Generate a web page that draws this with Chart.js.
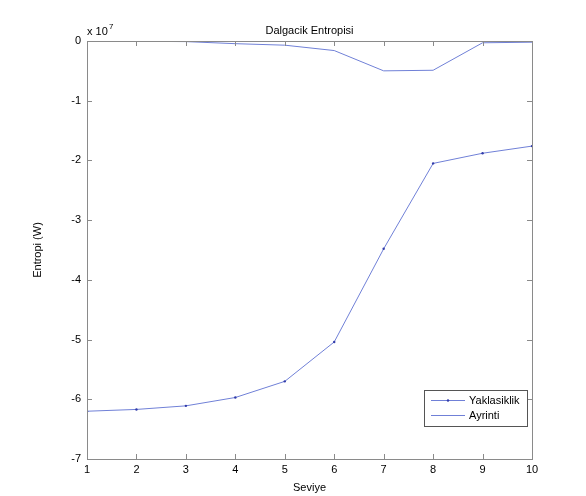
<!DOCTYPE html>
<html>
<head>
<meta charset="utf-8">
<script src="https://cdn.jsdelivr.net/npm/chart.js@4.4.1/dist/chart.umd.min.js"></script>
<style>
  html, body { margin: 0; padding: 0; background: #fff; }
  #wrap { width: 586px; height: 496px; }
</style>
</head>
<body>
<div id="wrap"><canvas id="c" width="586" height="496"></canvas></div>
<script>
// data (values in W, axis shown as x 10^7)
const levels = [1, 2, 3, 4, 5, 6, 7, 8, 9, 10];
const yaklasiklik = [-6.20e7, -6.17e7, -6.11e7, -5.97e7, -5.70e7, -5.04e7, -3.48e7, -2.05e7, -1.88e7, -1.76e7];
const ayrinti = [0, -0.005e7, -0.01e7, -0.045e7, -0.07e7, -0.16e7, -0.50e7, -0.49e7, -0.03e7, -0.02e7];
const seriesNames = ['Yaklasiklik', 'Ayrinti'];
const yTickLabels = ['-7', '-6', '-5', '-4', '-3', '-2', '-1', '0'];

const FONT = '"Liberation Sans", Arial, sans-serif';
const lineCol = 'rgb(112,128,215)';
const axisCol = '#8a8a8a';

// box, inward ticks, titles, legend
const matlabLook = {
  id: 'matlabLook',
  afterDraw(chart) {
    const { ctx, chartArea: a, scales: { x, y } } = chart;
    ctx.save();
    ctx.strokeStyle = axisCol;
    ctx.lineWidth = 1;
    ctx.strokeRect(Math.round(a.left) + 0.5, Math.round(a.top) + 0.5, Math.round(a.right - a.left), Math.round(a.bottom - a.top));
    ctx.beginPath();
    x.ticks.forEach(t => {
      const px = Math.round(x.getPixelForValue(t.value)) + 0.5;
      ctx.moveTo(px, a.bottom); ctx.lineTo(px, a.bottom - 5);
      ctx.moveTo(px, a.top); ctx.lineTo(px, a.top + 5);
    });
    y.ticks.forEach(t => {
      const py = Math.round(y.getPixelForValue(t.value)) + 0.5;
      ctx.moveTo(a.left, py); ctx.lineTo(a.left + 5, py);
      ctx.moveTo(a.right, py); ctx.lineTo(a.right - 5, py);
    });
    ctx.stroke();

    ctx.fillStyle = '#000';
    ctx.font = '11px ' + FONT;
    ctx.textAlign = 'center';
    ctx.textBaseline = 'alphabetic';
    ctx.fillText('Dalgacik Entropisi', (a.left + a.right) / 2, 34);
    ctx.fillText('Seviye', (a.left + a.right) / 2, 491);
    ctx.textAlign = 'left';
    ctx.fillText('x 10', 87, 35);
    ctx.font = '8px ' + FONT;
    ctx.fillText('7', 109, 29);
    ctx.font = '11px ' + FONT;
    ctx.save();
    ctx.translate(41, (a.top + a.bottom) / 2);
    ctx.rotate(-Math.PI / 2);
    ctx.textAlign = 'center';
    ctx.fillText('Entropi (W)', 0, 0);
    ctx.restore();

    // legend
    const lx = 424, ly = 390, lw = 103, lh = 36;
    ctx.fillStyle = '#fff';
    ctx.fillRect(lx, ly, lw, lh);
    ctx.strokeStyle = '#555';
    ctx.strokeRect(lx + 0.5, ly + 0.5, lw, lh);
    chart.data.datasets.forEach((ds, i) => {
      const yy = ly + 10 + i * 15 + 0.5;
      ctx.strokeStyle = ds.borderColor;
      ctx.beginPath(); ctx.moveTo(431, yy); ctx.lineTo(465, yy); ctx.stroke();
      if (ds.pointRadius > 0) {
        ctx.fillStyle = ds.pointBackgroundColor;
        ctx.beginPath(); ctx.arc(448, yy, 1.2, 0, Math.PI * 2); ctx.fill();
      }
      ctx.fillStyle = '#000';
      ctx.textAlign = 'left';
      ctx.textBaseline = 'middle';
      ctx.fillText(ds.label, 469, yy);
    });
    ctx.restore();
  }
};

new Chart(document.getElementById('c'), {
  type: 'line',
  data: {
    datasets: [
      {
        label: seriesNames[0],
        data: levels.map((l, i) => ({ x: l, y: yaklasiklik[i] })),
        borderColor: lineCol, borderWidth: 1,
        pointRadius: 1.2, pointBackgroundColor: 'rgb(50,60,170)', pointBorderWidth: 0,
        tension: 0
      },
      {
        label: seriesNames[1],
        data: levels.map((l, i) => ({ x: l, y: ayrinti[i] })),
        borderColor: lineCol, borderWidth: 1,
        pointRadius: 0, tension: 0
      }
    ]
  },
  options: {
    responsive: false,
    animation: false,
    layout: { padding: { top: 41, right: 54, left: 0, bottom: 0 } },
    plugins: { legend: { display: false }, title: { display: false }, tooltip: { enabled: false } },
    scales: {
      x: {
        type: 'linear', min: 1, max: 10,
        grid: { display: false, drawTicks: false },
        border: { display: false },
        ticks: { stepSize: 1, color: '#000', padding: 4, font: { family: FONT, size: 11 }, maxRotation: 0 },
        afterFit: s => { s.height = 37; }
      },
      y: {
        min: -7e7, max: 0,
        grid: { display: false, drawTicks: false },
        border: { display: false },
        ticks: {
          stepSize: 1e7, color: '#000', padding: 6, font: { family: FONT, size: 11 },
          callback: v => yTickLabels[Math.round(v / 1e7) + 7]
        },
        afterFit: s => { s.width = 87; }
      }
    }
  },
  plugins: [matlabLook]
});
</script>
</body>
</html>
